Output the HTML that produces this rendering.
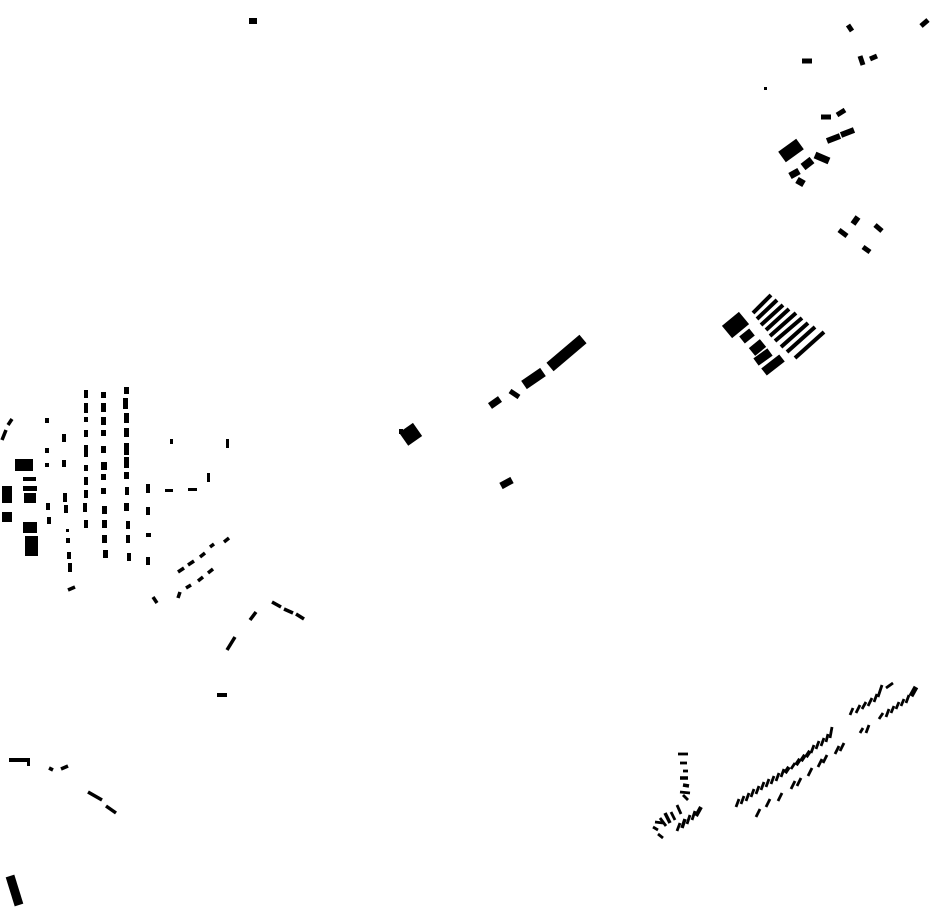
<!DOCTYPE html>
<html><head><meta charset="utf-8"><style>html,body{margin:0;padding:0;background:#fff}svg{display:block}</style></head>
<body>
<svg width="930" height="924" viewBox="0 0 930 924" xmlns="http://www.w3.org/2000/svg">
<g fill="#000">
<!-- top -->
<rect x="249" y="18" width="8" height="6"/>
<!-- left cluster column A -->
<rect x="84" y="390" width="4" height="8"/><rect x="84" y="403" width="4" height="10"/><rect x="84" y="417" width="4" height="5"/><rect x="84" y="430" width="4" height="7"/><rect x="84" y="445" width="4" height="12"/><rect x="84" y="465" width="4" height="6"/><rect x="84" y="477" width="4" height="8"/><rect x="84" y="490" width="4" height="8"/><rect x="83" y="503" width="4" height="9"/><rect x="84" y="520" width="4" height="8"/>
<!-- column B -->
<rect x="101" y="392" width="5" height="6"/><rect x="101" y="403" width="5" height="9"/><rect x="101" y="417" width="5" height="8"/><rect x="101" y="430" width="5" height="6"/><rect x="101" y="446" width="5" height="7"/><rect x="101" y="462" width="6" height="8"/><rect x="101" y="474" width="5" height="6"/><rect x="101" y="488" width="5" height="6"/><rect x="102" y="506" width="5" height="8"/><rect x="102" y="520" width="5" height="8"/><rect x="102" y="535" width="5" height="8"/><rect x="103" y="550" width="5" height="8"/>
<!-- column C -->
<rect x="124" y="387" width="5" height="7"/><rect x="123" y="398" width="5" height="11"/><rect x="124" y="413" width="5" height="10"/><rect x="124" y="428" width="5" height="9"/><rect x="124" y="443" width="5" height="12"/><rect x="124" y="457" width="5" height="11"/><rect x="124" y="472" width="5" height="7"/><rect x="125" y="487" width="4" height="8"/><rect x="124" y="503" width="5" height="8"/><rect x="126" y="521" width="4" height="8"/><rect x="126" y="535" width="4" height="8"/><rect x="127" y="553" width="4" height="8"/>
<!-- small left -->
<rect x="45" y="418" width="4" height="5"/><rect x="45" y="448" width="4" height="5"/><rect x="45" y="463" width="4" height="4"/><rect x="46" y="503" width="4" height="7"/><rect x="47" y="517" width="4" height="7"/>
<rect x="62" y="434" width="4" height="8"/><rect x="62" y="460" width="4" height="7"/><rect x="63" y="493" width="4" height="9"/><rect x="64" y="505" width="4" height="8"/>
<rect x="66" y="529" width="3" height="3"/><rect x="66" y="538" width="4" height="5"/><rect x="67" y="552" width="4" height="7"/><rect x="68" y="563" width="4" height="9"/>
<rect x="146" y="484" width="4" height="9"/><rect x="146" y="507" width="4" height="8"/><rect x="146" y="533" width="5" height="4"/><rect x="146" y="557" width="4" height="8"/>
<rect x="165" y="489" width="8" height="3"/><rect x="188" y="488" width="9" height="3"/><rect x="207" y="473" width="3" height="9"/><rect x="170" y="439" width="3" height="5"/><rect x="226" y="439" width="3" height="9"/>
<!-- big left buildings -->
<rect x="15" y="459" width="18" height="12"/><rect x="2" y="486" width="10" height="17"/><rect x="2" y="512" width="10" height="10"/><rect x="23" y="477" width="13" height="4"/><rect x="23" y="486" width="14" height="5"/><rect x="24" y="493" width="12" height="10"/><rect x="23" y="522" width="14" height="11"/><rect x="25" y="536" width="13" height="20"/>
<rect x="217" y="693" width="10" height="4"/>
<rect x="9" y="758" width="21" height="4"/><rect x="27" y="758" width="3" height="8"/>
</g>
<g stroke="#000" stroke-linecap="butt" fill="none">
<g stroke-width="3.5">
<line x1="2" y1="440" x2="6" y2="430"/><line x1="8" y1="425" x2="12" y2="419"/>
<line x1="68" y1="590" x2="75" y2="587"/>
<line x1="178" y1="572" x2="184" y2="568"/><line x1="188" y1="565" x2="194" y2="561"/><line x1="200" y1="557" x2="205" y2="553"/><line x1="210" y1="547" x2="214" y2="544"/><line x1="224" y1="542" x2="229" y2="538"/>
<line x1="178" y1="598" x2="180" y2="592"/><line x1="186" y1="588" x2="191" y2="585"/><line x1="198" y1="581" x2="203" y2="577"/><line x1="208" y1="573" x2="213" y2="569"/>
<line x1="153" y1="597" x2="157" y2="603"/>
<line x1="250" y1="620" x2="256" y2="612"/>
<line x1="272" y1="602" x2="281" y2="607"/><line x1="284" y1="609" x2="293" y2="613"/><line x1="296" y1="614" x2="304" y2="619"/>
<line x1="227" y1="650" x2="235" y2="637"/>
<line x1="49" y1="768" x2="53" y2="770"/><line x1="61" y1="769" x2="68" y2="766"/>
<line x1="88" y1="792" x2="102" y2="800"/><line x1="106" y1="806" x2="116" y2="813"/>
</g>
<line x1="10" y1="876" x2="19" y2="905" stroke-width="9"/>
<!-- top right -->
<g stroke-width="5">
<line x1="848" y1="25" x2="852" y2="31"/><line x1="921" y1="26" x2="928" y2="20"/>
<line x1="802" y1="61" x2="812" y2="61" stroke-width="5"/>
<line x1="860" y1="56" x2="863" y2="65"/><line x1="870" y1="59" x2="877" y2="56"/>
<line x1="764" y1="88.5" x2="767" y2="88.5" stroke-width="3"/>
<line x1="821" y1="117" x2="831" y2="117"/><line x1="837" y1="115" x2="845" y2="110"/>
<line x1="827" y1="141" x2="840" y2="136" stroke-width="6"/><line x1="841" y1="135" x2="854" y2="130" stroke-width="6"/>
<line x1="782" y1="157" x2="800" y2="144" stroke-width="13"/>
<line x1="815" y1="155" x2="829" y2="161" stroke-width="7"/>
<line x1="803" y1="167" x2="812" y2="160" stroke-width="8"/>
<line x1="790" y1="176" x2="799" y2="171" stroke-width="7"/>
<line x1="797" y1="180" x2="804" y2="184" stroke-width="7"/>
<line x1="853" y1="224" x2="858" y2="217" stroke-width="6"/><line x1="839" y1="230" x2="847" y2="236"/><line x1="875" y1="225" x2="882" y2="231"/><line x1="863" y1="247" x2="870" y2="252"/>
</g>
<!-- center -->
<line x1="550" y1="367" x2="583" y2="339" stroke-width="11"/>
<line x1="524" y1="385" x2="543" y2="372" stroke-width="10"/>
<line x1="510" y1="391" x2="519" y2="397" stroke-width="5"/>
<line x1="490" y1="406" x2="500" y2="399" stroke-width="7"/>
<line x1="501" y1="486" x2="512" y2="480" stroke-width="7"/>
<!-- cluster -->
<line x1="727" y1="332" x2="744" y2="318" stroke-width="16"/>
<line x1="742" y1="340" x2="752" y2="332" stroke-width="9"/>
<line x1="752" y1="352" x2="763" y2="343" stroke-width="10"/>
<line x1="756" y1="362" x2="770" y2="352" stroke-width="9"/>
<line x1="764" y1="372" x2="782" y2="358" stroke-width="9"/>
<g stroke-width="4">
<line x1="753" y1="313" x2="771" y2="295"/><line x1="757" y1="319" x2="777" y2="300"/><line x1="761" y1="325" x2="783" y2="305"/><line x1="766" y1="330" x2="789" y2="309"/><line x1="770" y1="336" x2="796" y2="313"/><line x1="775" y1="341" x2="802" y2="318"/><line x1="781" y1="347" x2="808" y2="323"/><line x1="787" y1="352" x2="815" y2="327"/><line x1="795" y1="358" x2="824" y2="332"/>
</g>
<!-- bottom right -->
<g stroke-width="2.8">
<line x1="850" y1="715" x2="853" y2="708"/><line x1="856" y1="713" x2="860" y2="705"/><line x1="862" y1="709" x2="866" y2="702"/><line x1="868" y1="706" x2="872" y2="698"/><line x1="874" y1="702" x2="877" y2="694"/><line x1="878" y1="697" x2="882" y2="685"/><line x1="886" y1="688" x2="893" y2="683"/>
<line x1="879" y1="719" x2="883" y2="713"/><line x1="886" y1="717" x2="889" y2="709"/><line x1="891" y1="713" x2="894" y2="706"/><line x1="896" y1="709" x2="899" y2="702"/><line x1="901" y1="706" x2="904" y2="699"/><line x1="906" y1="703" x2="909" y2="695"/>
<line x1="911" y1="696" x2="916" y2="687" stroke-width="5"/>
<line x1="860" y1="733" x2="863" y2="728"/><line x1="866" y1="733" x2="869" y2="725"/>
<!-- main row -->
<line x1="736" y1="807" x2="739" y2="799"/><line x1="741" y1="804" x2="744" y2="796"/><line x1="746" y1="801" x2="749" y2="793"/><line x1="751" y1="797" x2="754" y2="789"/><line x1="756" y1="794" x2="759" y2="786"/><line x1="761" y1="790" x2="764" y2="782"/><line x1="766" y1="787" x2="769" y2="779"/><line x1="771" y1="784" x2="774" y2="776"/><line x1="776" y1="781" x2="779" y2="773"/><line x1="781" y1="777" x2="784" y2="769"/>
<line x1="785" y1="773" x2="789" y2="767" stroke-width="4"/><line x1="791" y1="769" x2="795" y2="763"/><line x1="796" y1="765" x2="800" y2="759" stroke-width="4"/><line x1="801" y1="761" x2="805" y2="755" stroke-width="4"/><line x1="806" y1="757" x2="810" y2="751" stroke-width="4"/>
<line x1="811" y1="753" x2="814" y2="745"/><line x1="816" y1="749" x2="819" y2="741"/><line x1="821" y1="746" x2="824" y2="738"/><line x1="826" y1="742" x2="828" y2="734"/><line x1="830" y1="738" x2="832" y2="727"/>
<line x1="756" y1="817" x2="760" y2="809"/><line x1="766" y1="807" x2="770" y2="799"/><line x1="778" y1="801" x2="782" y2="793"/><line x1="791" y1="789" x2="795" y2="781"/><line x1="797" y1="786" x2="801" y2="778"/><line x1="808" y1="776" x2="812" y2="768"/><line x1="818" y1="767" x2="822" y2="759"/><line x1="823" y1="763" x2="827" y2="755"/><line x1="835" y1="754" x2="839" y2="746"/><line x1="840" y1="751" x2="844" y2="743"/>
<!-- left Y group -->
<line x1="678" y1="754" x2="688" y2="754"/><line x1="680" y1="763" x2="687" y2="763"/><line x1="683" y1="771" x2="688" y2="771"/><line x1="680" y1="778" x2="688" y2="778" stroke-width="3.5"/><line x1="683" y1="785" x2="689" y2="786" stroke-width="3.5"/><line x1="680" y1="792" x2="690" y2="793"/>
<line x1="683" y1="795" x2="688" y2="800"/>
<line x1="655" y1="822" x2="663" y2="823"/><line x1="653" y1="827" x2="658" y2="830"/><line x1="658" y1="834" x2="663" y2="838"/>
<line x1="660" y1="818" x2="666" y2="826"/><line x1="665" y1="813" x2="670" y2="823" stroke-width="3.5"/><line x1="671" y1="812" x2="675" y2="820"/><line x1="677" y1="805" x2="681" y2="814"/>
<line x1="677" y1="831" x2="680" y2="823"/><line x1="682" y1="828" x2="685" y2="819" stroke-width="3.5"/><line x1="687" y1="824" x2="690" y2="815"/><line x1="692" y1="820" x2="695" y2="811"/><line x1="696" y1="816" x2="701" y2="807" stroke-width="4"/>
</g>
</g>
<g fill="#000">
<rect x="402" y="426" width="17" height="16" transform="rotate(-35 411 434)"/>
<rect x="399" y="429" width="4" height="5"/>
</g>
</svg>
</body></html>
